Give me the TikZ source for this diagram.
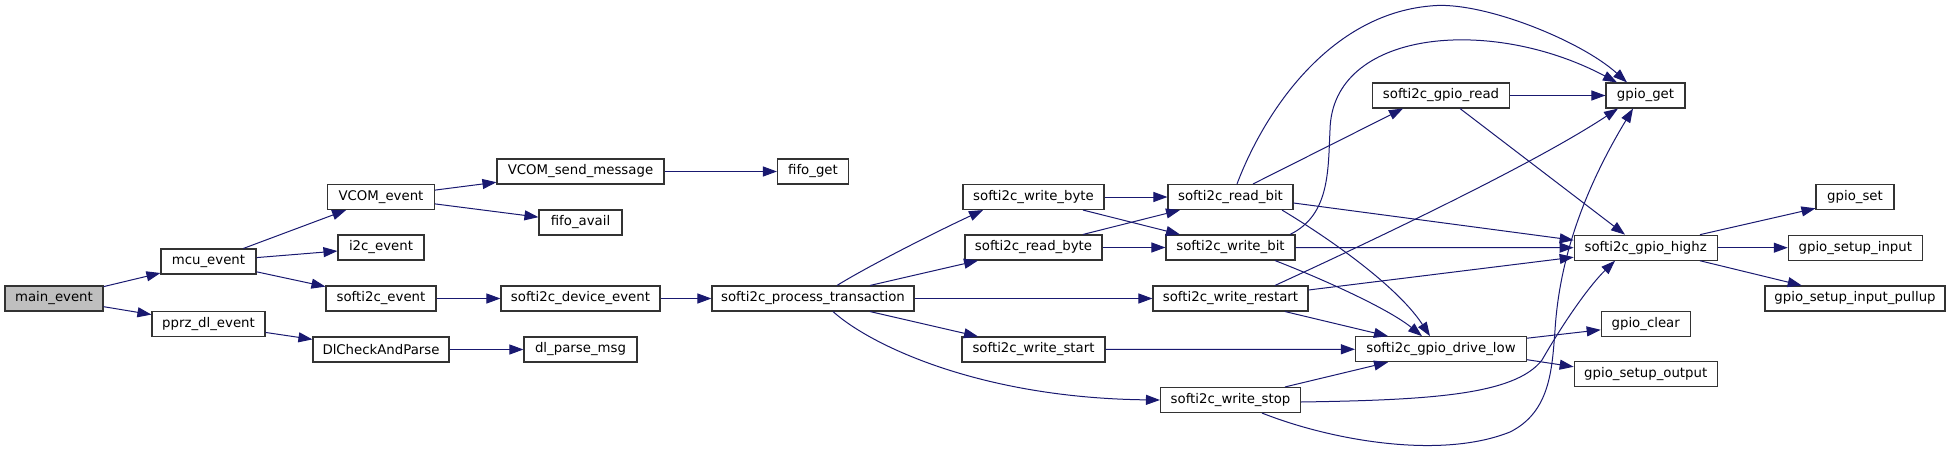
\documentclass[tikz,border=0pt]{standalone}
\usepackage{fontspec}
\setmainfont{DejaVu Sans}
\usetikzlibrary{arrows.meta}
\definecolor{edgeblue}{HTML}{191970}
\definecolor{boxline}{HTML}{333333}
\tikzset{
  fn/.style={draw=boxline, line width=1.1pt, fill=white, minimum height=25pt, inner sep=0pt, font=\fontsize{13.3pt}{15pt}\selectfont},
  cur/.style={fn, fill=black!25},
  call/.style={draw=edgeblue, line width=1pt, -{Triangle[length=14pt,width=10pt,fill=edgeblue]}},
}
\begin{document}
\begin{tikzpicture}[x=1pt,y=-1pt]
\useasboundingbox (0,0) rectangle (1951,452);
% nodes
\node[cur, minimum width=98pt]  (main)    at (54,298.5)   {main\_event};
\node[fn, minimum width=95pt]   (mcu)     at (208.5,261.5) {mcu\_event};
\node[fn, minimum width=113pt]  (pprz)    at (208.5,324)   {pprz\_dl\_event};
\node[fn, minimum width=107pt]  (vcom)    at (381,197)     {VCOM\_event};
\node[fn, minimum width=86pt]   (i2c)     at (381,247.5)   {i2c\_event};
\node[fn, minimum width=110pt]  (sev)     at (381,298.5)   {softi2c\_event};
\node[fn, minimum width=136pt]  (dlc)     at (381,349.5)   {DlCheckAndParse};
\node[fn, minimum width=167pt]  (vsm)     at (580.5,171.5) {VCOM\_send\_message};
\node[fn, minimum width=83pt]   (favail)  at (580.5,222.5) {fifo\_avail};
\node[fn, minimum width=159pt]  (sdev)    at (580.5,298.5) {softi2c\_device\_event};
\node[fn, minimum width=113pt]  (dlp)     at (580.5,349.5) {dl\_parse\_msg};
\node[fn, minimum width=71pt]   (fget)    at (813,171.5)   {fifo\_get};
\node[fn, minimum width=202pt]  (spt)     at (813,298.5)   {softi2c\_process\_transaction};
\node[fn, minimum width=141pt]  (wbyte)   at (1033.5,197)  {softi2c\_write\_byte};
\node[fn, minimum width=137pt]  (rbyte)   at (1033.5,247.5){softi2c\_read\_byte};
\node[fn, minimum width=143pt]  (wstart)  at (1033.5,349.5){softi2c\_write\_start};
\node[fn, minimum width=125pt]  (rbit)    at (1230.5,197)  {softi2c\_read\_bit};
\node[fn, minimum width=129pt]  (wbit)    at (1230.5,247.5){softi2c\_write\_bit};
\node[fn, minimum width=155pt]  (wrestart) at (1230.5,298.5){softi2c\_write\_restart};
\node[fn, minimum width=140pt]  (wstop)   at (1230.5,400)  {softi2c\_write\_stop};
\node[fn, minimum width=137pt]  (gread)   at (1441,95.5)   {softi2c\_gpio\_read};
\node[fn, minimum width=171pt]  (drlow)   at (1441,349.2)  {softi2c\_gpio\_drive\_low};
\node[fn, minimum width=79pt]   (gget)    at (1645.5,95.5) {gpio\_get};
\node[fn, minimum width=143pt]  (highz)   at (1645.7,247.7){softi2c\_gpio\_highz};
\node[fn, minimum width=89pt]   (gclear)  at (1645.7,323.8){gpio\_clear};
\node[fn, minimum width=143pt]  (gsout)   at (1645.7,374.3){gpio\_setup\_output};
\node[fn, minimum width=78pt]   (gset)    at (1855,197.3)  {gpio\_set};
\node[fn, minimum width=134pt]  (gsin)    at (1855.3,247.7){gpio\_setup\_input};
\node[fn, minimum width=180pt]  (gsip)    at (1855,298.5)  {gpio\_setup\_input\_pullup};
% edges
\draw[call] (main) -- (mcu);
\draw[call] (main) -- (pprz);
\draw[call] (mcu) -- (vcom);
\draw[call] (mcu) -- (i2c);
\draw[call] (mcu) -- (sev);
\draw[call] (pprz) -- (dlc);
\draw[call] (vcom) -- (vsm);
\draw[call] (vcom) -- (favail);
\draw[call] (vsm) -- (fget);
\draw[call] (sev) -- (sdev);
\draw[call] (dlc) -- (dlp);
\draw[call] (sdev) -- (spt);
\draw[call] ([xshift=24pt]spt.north) .. controls (870,265) and (940,230) .. ([xshift=-50.5pt]wbyte.south);
\draw[call] ([xshift=57pt]spt.north) -- ([xshift=-55.5pt]rbyte.south);
\draw[call] (spt) -- (wrestart);
\draw[call] ([xshift=57pt]spt.south) -- ([xshift=-55.5pt]wstart.north);
\draw[call] ([xshift=20pt]spt.south) .. controls (870,345) and (980,398) .. (wstop.west);
\draw[call] (wbyte) -- (rbit);
\draw[call] ([xshift=49.5pt]wbyte.south) -- ([xshift=-50.5pt]wbit.north);
\draw[call] ([xshift=49.5pt]rbyte.north) -- ([xshift=-50.5pt]rbit.south);
\draw[call] (rbyte) -- (wbit);
\draw[call] ([xshift=6.5pt]rbit.north) .. controls (1265,110) and (1330,15) .. (1430,6) .. controls (1480,0) and (1580,40) .. ([xshift=-18.5pt]gget.north);
\draw[call] ([xshift=22.5pt]rbit.north) -- ([xshift=-38pt]gread.south);
\draw[call] ([yshift=-6pt]rbit.east) -- ([yshift=7.5pt]highz.west);
\draw[call] ([xshift=51.5pt]rbit.south) .. controls (1340,245) and (1400,290) .. ([xshift=-11pt]drlow.north);
\draw[call] ([xshift=59.5pt]wbit.north) .. controls (1330,215) and (1328,170) .. (1330,130) .. controls (1332,30) and (1490,15) .. ([xshift=-28.5pt]gget.north);
\draw[call] (wbit) -- (highz);
\draw[call] ([xshift=44.5pt]wbit.south) .. controls (1330,282) and (1390,310) .. ([xshift=-19pt]drlow.north);
\draw[call] ([xshift=44.5pt]wrestart.north) .. controls (1400,228) and (1540,160) .. ([xshift=-27.5pt]gget.south);
\draw[call] ([yshift=8.5pt]wrestart.east) -- ([yshift=-9.5pt]highz.west);
\draw[call] ([xshift=54.5pt]wrestart.south) -- ([xshift=-53pt]drlow.north);
\draw[call] (wstart) -- (drlow);
\draw[call] ([xshift=54.5pt]wstop.north) -- ([xshift=-53pt]drlow.south);
\draw[call] ([yshift=-2pt]wstop.east) .. controls (1430,400) and (1515,395) .. (1542,360) .. controls (1565,320) and (1590,285) .. ([xshift=-30.7pt]highz.south);
\draw[call] ([xshift=31.5pt]wstop.south) .. controls (1330,440) and (1440,460) .. (1510,432) .. controls (1550,412) and (1552,370) .. (1555,330) .. controls (1560,250) and (1590,180) .. ([xshift=-12.5pt]gget.south);
\draw[call] (gread) -- (gget);
\draw[call] ([xshift=19pt]gread.south) -- ([xshift=-20.7pt]highz.north);
\draw[call] ([xshift=54.3pt]highz.north) -- ([yshift=-11pt]gset.west);
\draw[call] (highz) -- (gsin);
\draw[call] ([xshift=54.3pt]highz.south) -- ([xshift=-53.3pt]gsip.north);
\draw[call] ([yshift=11pt]drlow.east) -- ([yshift=-6pt]gclear.west);
\draw[call] ([yshift=-10.5pt]drlow.east) -- ([yshift=7.5pt]gsout.west);
\end{tikzpicture}
\end{document}
